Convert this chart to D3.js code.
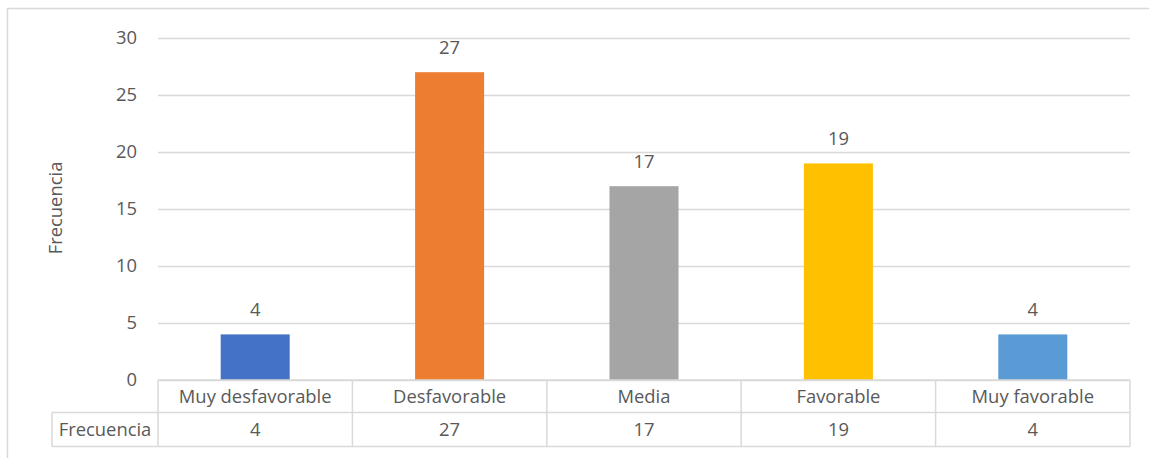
<!DOCTYPE html>
<html>
<head>
<meta charset="utf-8">
<script src="https://cdn.jsdelivr.net/npm/d3@7"></script>
<style>
  html, body { margin: 0; padding: 0; background: #fff; }
  svg text { font-family: "Open Sans", "Liberation Sans", Arial, sans-serif; fill: #595959; }
</style>
</head>
<body>
<svg id="chart" width="1149" height="458"></svg>
<script>
// Frequency per opinion category
const categories = ["Muy desfavorable", "Desfavorable", "Media", "Favorable", "Muy favorable"];
const values = [4, 27, 17, 19, 4];
const colors = ["#4472C4", "#ED7D31", "#A5A5A5", "#FFC000", "#5B9BD5"];
const yTicks = [0, 5, 10, 15, 20, 25, 30];
const seriesName = "Frecuencia";

const svg = d3.select("#chart");
const grid = "#D9D9D9";
const fontSize = 18.4;
const fontFamily = "'Open Sans', 'Liberation Sans', Arial, sans-serif";

// Chart frame
svg.append("path")
  .attr("d", "M7.5,458 V8.5 H1149")
  .attr("fill", "none")
  .attr("stroke", grid)
  .attr("stroke-width", 1.5);

const plot = { left: 158, right: 1130, top: 38, bottom: 380 };

const x = d3.scaleBand()
  .domain(categories)
  .range([plot.left, plot.right])
  .paddingInner(0)
  .paddingOuter(0);

const y = d3.scaleLinear()
  .domain([0, 30])
  .range([plot.bottom, plot.top]);

// Gridlines and tick labels
const yAxis = d3.axisLeft(y).tickValues(yTicks).tickSize(-(plot.right - plot.left)).tickPadding(21);
const gy = svg.append("g").attr("transform", `translate(${plot.left},0)`).call(yAxis);
gy.select(".domain").remove();
gy.selectAll(".tick line").attr("stroke", grid).attr("stroke-width", 1.5);
gy.selectAll(".tick text")
  .attr("font-size", fontSize)
  .attr("fill", "#595959")
  .style("font-family", fontFamily);

// Bars
const barW = x.bandwidth() * 0.355;
svg.append("g").selectAll("rect")
  .data(values)
  .join("rect")
  .attr("x", (d, i) => x(categories[i]) + (x.bandwidth() - barW) / 2)
  .attr("y", d => y(d))
  .attr("width", barW)
  .attr("height", d => y(0) - y(d))
  .attr("fill", (d, i) => colors[i]);

// Value labels above bars
svg.append("g").selectAll("text")
  .data(values)
  .join("text")
  .attr("x", (d, i) => x(categories[i]) + x.bandwidth() / 2)
  .attr("y", d => y(d) - 18)
  .attr("text-anchor", "middle")
  .attr("font-size", fontSize)
  .text(d => d);

// Y axis title
svg.append("text")
  .attr("transform", "translate(62,208) rotate(-90)")
  .attr("text-anchor", "middle")
  .attr("font-size", fontSize)
  .text(seriesName);

// Data table beneath the plot
const row1 = plot.bottom, row2 = 412.5, row3 = 446.5, headLeft = 52;
const table = svg.append("g").attr("stroke", grid).attr("stroke-width", 1.5).attr("fill", "none");
table.append("line").attr("x1", plot.left).attr("x2", plot.right).attr("y1", row1).attr("y2", row1);
table.append("line").attr("x1", headLeft).attr("x2", plot.right).attr("y1", row2).attr("y2", row2);
table.append("line").attr("x1", headLeft).attr("x2", plot.right).attr("y1", row3).attr("y2", row3);
table.append("line").attr("x1", headLeft).attr("x2", headLeft).attr("y1", row2).attr("y2", row3);
const bounds = categories.map(c => x(c)).concat([plot.right]);
table.selectAll("line.col")
  .data(bounds)
  .join("line")
  .attr("class", "col")
  .attr("x1", d => d).attr("x2", d => d)
  .attr("y1", row1).attr("y2", row3);

svg.append("g").selectAll("text")
  .data(categories)
  .join("text")
  .attr("x", d => x(d) + x.bandwidth() / 2)
  .attr("y", (row1 + row2) / 2 + 6.5)
  .attr("text-anchor", "middle")
  .attr("font-size", fontSize)
  .text(d => d);

svg.append("text")
  .attr("x", (headLeft + plot.left) / 2)
  .attr("y", (row2 + row3) / 2 + 6.5)
  .attr("text-anchor", "middle")
  .attr("font-size", fontSize)
  .text(seriesName);

svg.append("g").selectAll("text")
  .data(values)
  .join("text")
  .attr("x", (d, i) => x(categories[i]) + x.bandwidth() / 2)
  .attr("y", (row2 + row3) / 2 + 6.5)
  .attr("text-anchor", "middle")
  .attr("font-size", fontSize)
  .text(d => d);
</script>
</body>
</html>
